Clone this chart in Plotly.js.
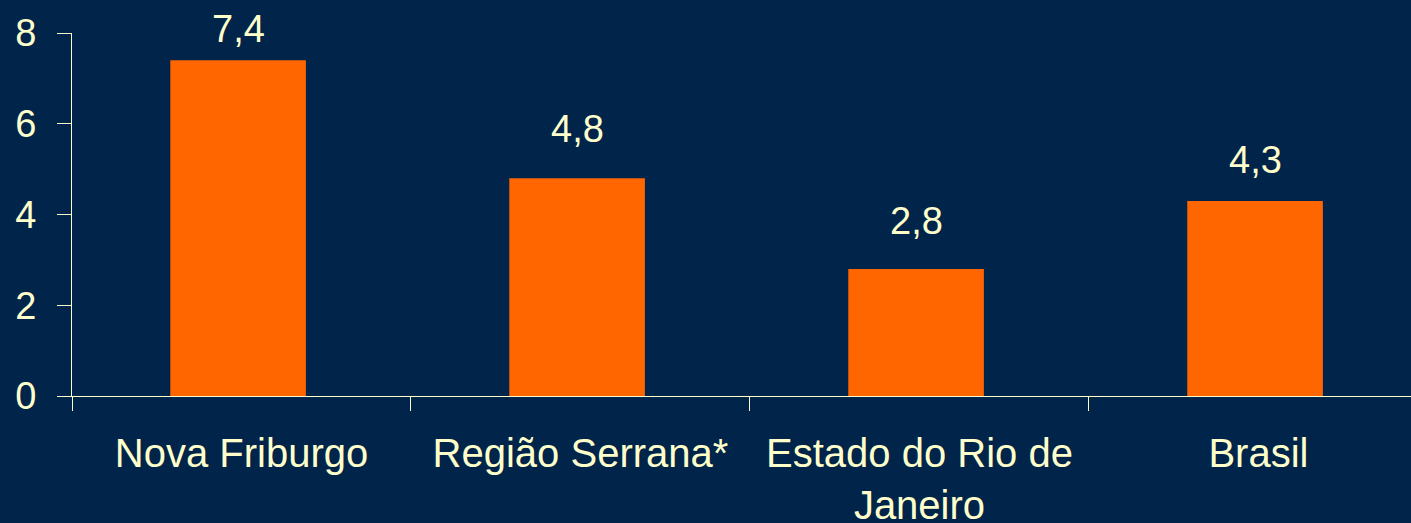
<!DOCTYPE html>
<html>
<head>
<meta charset="utf-8">
<script src="https://cdn.plot.ly/plotly-3.0.1.min.js"></script>
<style>
html,body{margin:0;padding:0;background:#00244A;}
#chart{width:1411px;height:523px;}
</style>
</head>
<body>
<div id="chart"></div>
<script>
const categories = ["Nova Friburgo", "Região Serrana*", "Estado do Rio de<br>Janeiro", "Brasil"];
const values = [7.4, 4.8, 2.8, 4.3];
const valueLabels = ["7,4", "4,8", "2,8", "4,3"];
const yTicks = [0, 2, 4, 6, 8];

const fg = "#FFFFCC";
const fontFamily = "'Liberation Sans', Arial, sans-serif";

// label gap above each bar (pixels), as placed in the original
const labelGap = [8, 26, 25, 18];

const trace = {
  type: "bar",
  x: categories,
  y: values,
  width: 0.4,
  offset: -0.21,
  marker: {color: "#FF6600", line: {width: 0}},
  hoverinfo: "skip"
};

const annotations = categories.map((c, i) => ({
  x: c,
  y: values[i],
  xref: "x",
  yref: "y",
  text: valueLabels[i],
  showarrow: false,
  yanchor: "bottom",
  yshift: labelGap[i],
  xshift: -3,
  font: {family: fontFamily, size: 38, color: fg}
}));

const layout = {
  width: 1411,
  height: 523,
  paper_bgcolor: "#00244A",
  plot_bgcolor: "#00244A",
  showlegend: false,
  margin: {l: 72, r: 0, t: 33, b: 127, pad: 0},
  font: {family: fontFamily, color: fg, size: 38},
  annotations: annotations,
  xaxis: {
    type: "category",
    range: [-0.5, 3.45],
    tickson: "boundaries",
    ticks: "outside",
    ticklen: 14,
    tickwidth: 1,
    tickcolor: fg,
    showline: true,
    linecolor: fg,
    linewidth: 1,
    showgrid: false,
    zeroline: false,
    tickfont: {family: fontFamily, size: 40, color: fg},
    ticklabelstandoff: 22
  },
  yaxis: {
    range: [0, 8],
    tickvals: yTicks,
    ticktext: yTicks.map(String),
    ticks: "outside",
    ticklen: 14,
    tickwidth: 1,
    tickcolor: fg,
    showline: true,
    linecolor: fg,
    linewidth: 1,
    showgrid: false,
    zeroline: false,
    tickfont: {family: fontFamily, size: 38, color: fg},
    ticklabelstandoff: 13
  }
};

Plotly.newPlot("chart", [trace], layout, {displayModeBar: false, staticPlot: true});
</script>
</body>
</html>
